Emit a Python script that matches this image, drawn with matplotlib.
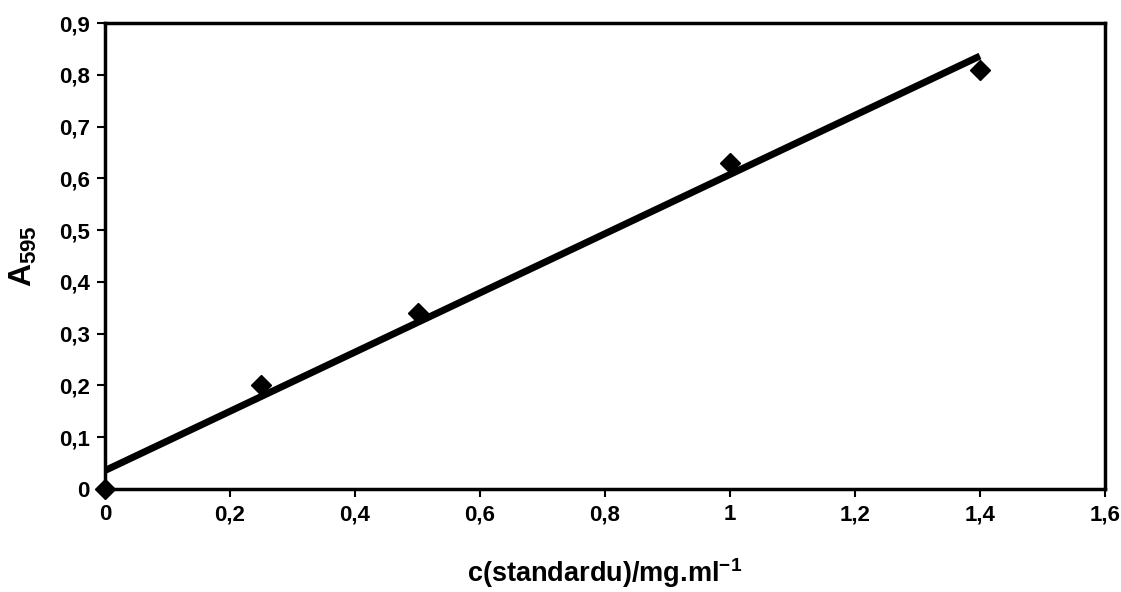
import numpy as np
import matplotlib
matplotlib.use("Agg")
import matplotlib.pyplot as plt

conc = [0, 0.25, 0.5, 1.0, 1.4]
absorb = [0.0, 0.2, 0.34, 0.63, 0.81]
xticks = [0, 0.2, 0.4, 0.6, 0.8, 1.0, 1.2, 1.4, 1.6]
yticks = [0, 0.1, 0.2, 0.3, 0.4, 0.5, 0.6, 0.7, 0.8, 0.9]

def fmt(v):
    s = f"{v:.1f}".replace(".", ",")
    if s.endswith(",0"):
        s = s[:-2]
    return s

plt.rcParams['font.family'] = ['Liberation Sans', 'DejaVu Sans']
plt.rcParams['mathtext.fontset'] = 'custom'
plt.rcParams['mathtext.rm'] = 'Liberation Sans'
plt.rcParams['mathtext.bf'] = 'Liberation Sans:bold'
plt.rcParams['mathtext.default'] = 'bf'

fig = plt.figure(figsize=(11.21, 5.92), dpi=100)
ax = fig.add_axes([0.0937, 0.174, 0.892, 0.787])

slope, intercept = np.polyfit(conc, absorb, 1)
xl = np.array([conc[0], conc[-1]])
ax.plot(xl, slope * xl + intercept, color='black', lw=5, solid_capstyle='butt', zorder=3)
ax.plot(conc, absorb, linestyle='none', marker='D', markersize=10, color='black', zorder=4, clip_on=False)

ax.set_xlim(0, 1.6)
ax.set_ylim(0, 0.9)
ax.set_xticks(xticks)
ax.set_yticks(yticks)
ax.set_xticklabels([fmt(v) for v in xticks], fontsize=16, fontweight='bold')
ax.set_yticklabels([fmt(v) for v in yticks], fontsize=16, fontweight='bold')
ax.tick_params(direction='out', length=6, width=1.5, color='black', pad=5)
for s in ax.spines.values():
    s.set_linewidth(2.5)
    s.set_color('black')

ax.set_xlabel(r"c(standardu)/mg.ml$^{-1}$", fontsize=19.5, fontweight='bold', labelpad=22)
ax.set_ylabel(r"A$_{595}$", fontsize=23, fontweight='bold', labelpad=14)

fig.savefig("out.png", dpi=100)
